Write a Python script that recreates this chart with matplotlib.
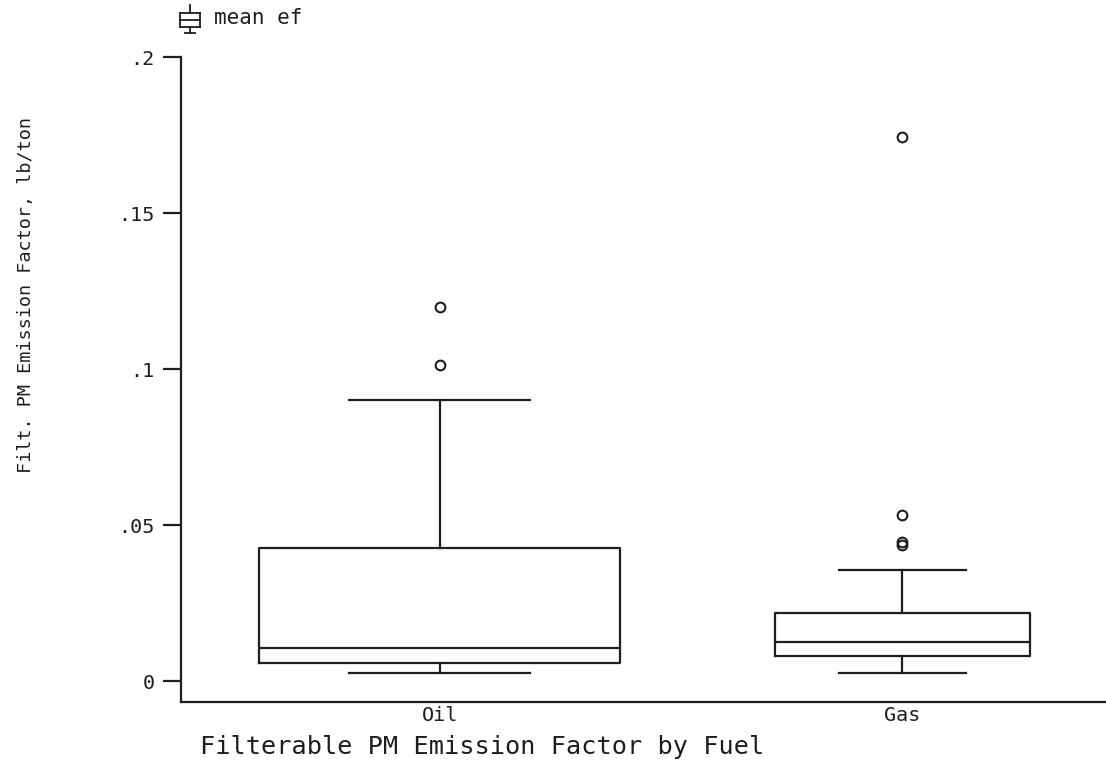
import matplotlib
matplotlib.use("Agg")
import matplotlib.pyplot as plt
from matplotlib.lines import Line2D

# ---- data ----
categories = ["Oil", "Gas"]
q1 = [0.0058, 0.0080]
median = [0.0106, 0.0125]
q3 = [0.0426, 0.0218]
whislo = [0.0026, 0.0026]
whishi = [0.0900, 0.0356]
outliers = [[0.1013, 0.1200], [0.0436, 0.0446, 0.0532, 0.1744]]
yticks = [0, 0.05, 0.10, 0.15, 0.20]
ytick_labels = ["0", ".05", ".1", ".15", ".2"]

W, H = 1106, 771
fig = plt.figure(figsize=(W / 100, H / 100), dpi=100)
ax = fig.add_axes([181 / W, (H - 702) / H, 1 - 181 / W, (702 - 57) / H])

ink = "#1e1e1e"
mono = "DejaVu Sans Mono"

stats = []
for i, c in enumerate(categories):
    stats.append(dict(label=c, q1=q1[i], med=median[i], q3=q3[i],
                      whislo=whislo[i], whishi=whishi[i], fliers=outliers[i]))

positions = [1, 2]
widths = [0.78, 0.55]
ax.bxp(stats, positions=positions, widths=widths, showfliers=True,
       boxprops=dict(color=ink, linewidth=1.6),
       medianprops=dict(color=ink, linewidth=1.6),
       whiskerprops=dict(color=ink, linewidth=1.6),
       capprops=dict(color=ink, linewidth=1.6),
       capwidths=[w / 2 for w in widths],
       flierprops=dict(marker="o", markersize=7, markerfacecolor="none",
                       markeredgecolor=ink, markeredgewidth=1.5))

ax.set_xlim(0.441, 2.44)
ax.set_ylim(-0.00673, 0.2)

for s in ["top", "right"]:
    ax.spines[s].set_visible(False)
for s in ["left", "bottom"]:
    ax.spines[s].set_color(ink)
    ax.spines[s].set_linewidth(1.6)

ax.set_yticks(yticks)
ax.set_yticklabels(ytick_labels, fontfamily=mono, fontsize=14.5, color=ink)
ax.tick_params(axis="y", length=13, width=1.6, color=ink, pad=6)
ax.set_xticks(positions)
ax.set_xticklabels(categories, fontfamily=mono, fontsize=14.5, color=ink)
ax.tick_params(axis="x", length=0, pad=3)

ax.set_ylabel("Filt. PM Emission Factor, lb/ton", fontfamily=mono,
              fontsize=13.3, color=ink, va="center")
ax.yaxis.set_label_coords(-(181 - 26) / (W - 181), (702 - 295) / (702 - 57))

fig.text(200 / W, 1 - 747 / H, "Filterable PM Emission Factor by Fuel",
         fontfamily=mono, fontsize=18.2, color=ink, ha="left", va="center")

# legend: small box-plot icon + "mean ef"
def fx(px):
    return px / W
def fy(py):
    return 1 - py / H
lw = 1.3
icon = [
    ([190, 190], [5, 13]),
    ([180, 200], [13, 13]),
    ([180, 180], [13, 27]),
    ([200, 200], [13, 27]),
    ([180, 200], [20, 20]),
    ([180, 200], [27, 27]),
    ([190, 190], [27, 33]),
    ([185, 195], [33, 33]),
]
for xs, ys in icon:
    fig.add_artist(Line2D([fx(x) for x in xs], [fy(y) for y in ys],
                          color=ink, linewidth=lw, transform=fig.transFigure))
fig.text(fx(214), fy(18), "mean ef", fontfamily=mono, fontsize=15,
         color=ink, ha="left", va="center")

fig.savefig("out.png", dpi=100)
